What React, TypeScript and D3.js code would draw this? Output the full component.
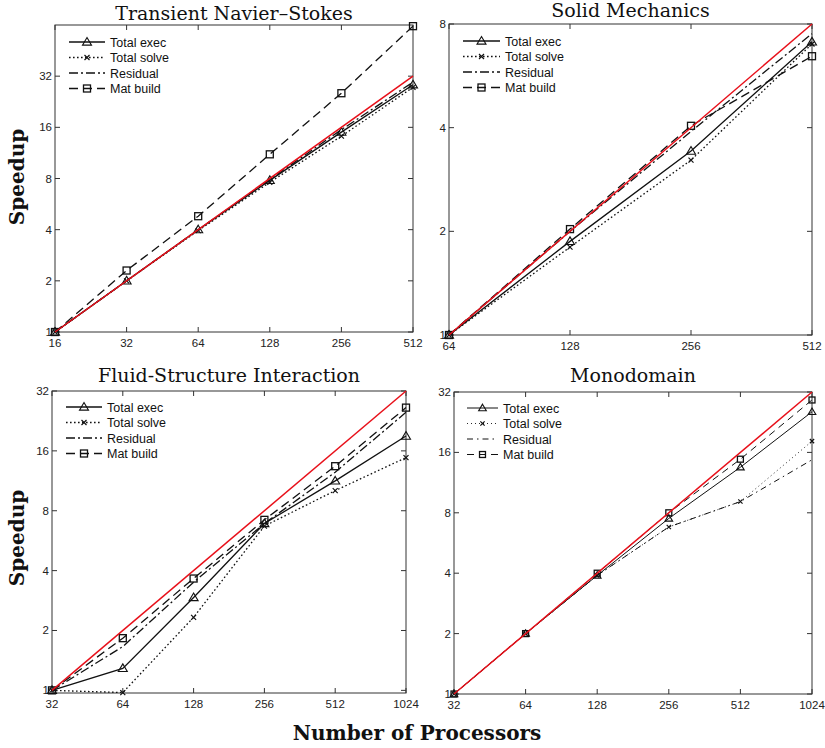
import React from 'react';
import * as d3 from 'd3';

// Transient Navier-Stokes
const nsProcs = [16, 32, 64, 128, 256, 512];
const nsExec = [1, 2, 4, 7.8, 15, 28.5];
const nsSolve = [1, 2, 3.95, 7.6, 14.2, 27.5];
const nsResidual = [1, 2, 4, 7.9, 15.5, 29.5];
const nsMat = [1, 2.3, 4.8, 11.1, 25.4, 63];
const nsIdeal = [1, 32];

// Solid Mechanics
const smProcs = [64, 128, 256, 512];
const smExec = [1, 1.87, 3.42, 7.1];
const smSolve = [1, 1.8, 3.22, 7.0];
const smResidual = [1, 2.0, 3.9, 7.5];
const smMat = [1, 2.03, 4.05, 6.45];
const smIdeal = [1, 8];

// Fluid-Structure Interaction
const fsiProcs = [32, 64, 128, 256, 512, 1024];
const fsiExec = [1, 1.29, 2.93, 6.9, 11.3, 19];
const fsiSolve = [1, 0.975, 2.33, 6.7, 10.1, 14.8];
const fsiResidual = [1, 1.66, 3.5, 6.9, 12.5, 25];
const fsiMat = [1, 1.83, 3.65, 7.2, 13.4, 26.4];
const fsiIdeal = [1, 32];

// Monodomain
const monoProcs = [32, 64, 128, 256, 512, 1024];
const monoExec = [1, 2, 3.9, 7.5, 13.5, 25.5];
const monoSolve = [1, 2, 3.9, 6.8, 9.1, 18.2];
const monoResidual = [1, 2, 3.9, 6.8, 9.1, 14.7];
const monoMat = [1, 2, 4, 8, 14.8, 29.2];
const monoIdeal = [1, 32];

const legendNames = ['Total exec', 'Total solve', 'Residual', 'Mat build'];
const markerKinds = ['tri', 'x', 'none', 'sq'];

const sans = '"Liberation Sans", Arial, sans-serif';
const serif = '"DejaVu Serif", serif';

function Marker({ kind, x, y, s }) {
  if (kind === 'tri') {
    const r = 4.5 * s;
    return <path d={`M${x},${y - r}L${x + r},${y + r * 0.7}L${x - r},${y + r * 0.7}Z`} fill="none" stroke="#111" strokeWidth={1.1} />;
  }
  if (kind === 'sq') {
    const r = 3.5 * s;
    return <rect x={x - r} y={y - r} width={2 * r} height={2 * r} fill="none" stroke="#111" strokeWidth={1.3} />;
  }
  if (kind === 'x') {
    const r = 2.5 * s;
    return <path d={`M${x - r},${y - r}L${x + r},${y + r}M${x - r},${y + r}L${x + r},${y - r}`} stroke="#111" strokeWidth={1.2} />;
  }
  return null;
}

function Panel({ box, procs, series, ideal, yDomain, yTicks, title, titleY, legend, thin }) {
  const x = d3.scaleLog().base(2).domain([procs[0], procs[procs.length - 1]]).range([box.left, box.right]);
  const y = d3.scaleLog().base(2).domain(yDomain).range([box.bottom, box.top]);
  const lw = thin ? 1 : 1.3;
  const dashes = thin
    ? [null, '1,3', '6,4,1.5,4', '7,5']
    : [null, '1.6,2.4', '9,3,2,3', '9,5'];
  const line = d3.line().x((d) => x(d[0])).y((d) => y(d[1]));
  const ms = thin ? 0.85 : 1;
  const tl = 5;
  const midX = (box.left + box.right) / 2;

  return (
    <g>
      <text x={midX} y={titleY} textAnchor="middle" fontFamily={serif} fontSize={19} fill="#111">{title}</text>
      <rect x={box.left} y={box.top} width={box.right - box.left} height={box.bottom - box.top} fill="white" stroke="#333" strokeWidth={1} />
      {procs.map((p) => (
        <g key={'xt' + p}>
          <line x1={x(p)} x2={x(p)} y1={box.bottom} y2={box.bottom - tl} stroke="#333" />
          <line x1={x(p)} x2={x(p)} y1={box.top} y2={box.top + tl} stroke="#333" />
          <text x={x(p)} y={box.bottom + 15} textAnchor="middle" fontFamily={sans} fontSize={11.5} fill="#222">{p}</text>
        </g>
      ))}
      {yTicks.map((t) => (
        <g key={'yt' + t}>
          <line x1={box.left} x2={box.left + tl} y1={y(t)} y2={y(t)} stroke="#333" />
          <line x1={box.right} x2={box.right - tl} y1={y(t)} y2={y(t)} stroke="#333" />
          <text x={box.left - 3} y={y(t) + 4} textAnchor="end" fontFamily={sans} fontSize={11.5} fill="#222">{t}</text>
        </g>
      ))}
      {series.map((vals, i) => {
        const pts = procs.map((p, j) => [p, vals[j]]);
        return (
          <g key={'s' + i}>
            <path d={line(pts)} fill="none" stroke="#111" strokeWidth={i === 1 && thin ? 0.9 : lw} strokeDasharray={dashes[i] || undefined} />
            {pts.map((d, j) => (
              <Marker key={j} kind={markerKinds[i]} x={x(d[0])} y={y(d[1])} s={ms} />
            ))}
          </g>
        );
      })}
      <path d={line([[procs[0], ideal[0]], [procs[procs.length - 1], ideal[1]]])} stroke="#e8101a" strokeWidth={1.5} fill="none" />
      {legendNames.map((name, i) => {
        const ly = legend.y + i * 15.5;
        return (
          <g key={'lg' + i}>
            <line x1={legend.x0} x2={legend.x1} y1={ly} y2={ly} stroke="#111" strokeWidth={i === 1 && thin ? 0.9 : lw} strokeDasharray={dashes[i] || undefined} />
            <Marker kind={markerKinds[i]} x={(legend.x0 + legend.x1) / 2} y={ly} s={ms} />
            <text x={legend.x1 + 5} y={ly + 4.5} fontFamily={sans} fontSize={12.5} fill="#111">{name}</text>
          </g>
        );
      })}
    </g>
  );
}

export default function App() {
  return (
    <svg width={825} height={748} style={{ position: 'absolute', left: 0, top: 0, background: 'white' }}>
      <rect width={825} height={748} fill="white" />
      <Panel
        box={{ left: 55, right: 413, top: 25, bottom: 332 }}
        procs={nsProcs}
        series={[nsExec, nsSolve, nsResidual, nsMat]}
        ideal={nsIdeal}
        yDomain={[1, 64]}
        yTicks={[1, 2, 4, 8, 16, 32]}
        title="Transient Navier–Stokes"
        titleY={20}
        legend={{ x0: 69, x1: 105, y: 42 }}
      />
      <Panel
        box={{ left: 449, right: 812, top: 24, bottom: 335 }}
        procs={smProcs}
        series={[smExec, smSolve, smResidual, smMat]}
        ideal={smIdeal}
        yDomain={[1, 8]}
        yTicks={[1, 2, 4, 8]}
        title="Solid Mechanics"
        titleY={17}
        legend={{ x0: 463, x1: 500, y: 41 }}
      />
      <Panel
        box={{ left: 52, right: 406, top: 391, bottom: 693 }}
        procs={fsiProcs}
        series={[fsiExec, fsiSolve, fsiResidual, fsiMat]}
        ideal={fsiIdeal}
        yDomain={[0.97, 32]}
        yTicks={[1, 2, 4, 8, 16, 32]}
        title="Fluid-Structure Interaction"
        titleY={382}
        legend={{ x0: 66, x1: 102, y: 407 }}
      />
      <Panel
        box={{ left: 454, right: 812, top: 392, bottom: 694 }}
        procs={monoProcs}
        series={[monoExec, monoSolve, monoResidual, monoMat]}
        ideal={monoIdeal}
        yDomain={[1, 32]}
        yTicks={[1, 2, 4, 8, 16, 32]}
        title="Monodomain"
        titleY={382}
        legend={{ x0: 467, x1: 498, y: 408 }}
        thin
      />
      <text transform="translate(24,177) rotate(-90)" textAnchor="middle" fontFamily={serif} fontWeight="bold" fontSize={20} fill="#111">Speedup</text>
      <text transform="translate(24,538) rotate(-90)" textAnchor="middle" fontFamily={serif} fontWeight="bold" fontSize={20} fill="#111">Speedup</text>
      <text x={417} y={740} textAnchor="middle" fontFamily={serif} fontWeight="bold" fontSize={20} fill="#111">Number of Processors</text>
    </svg>
  );
}
